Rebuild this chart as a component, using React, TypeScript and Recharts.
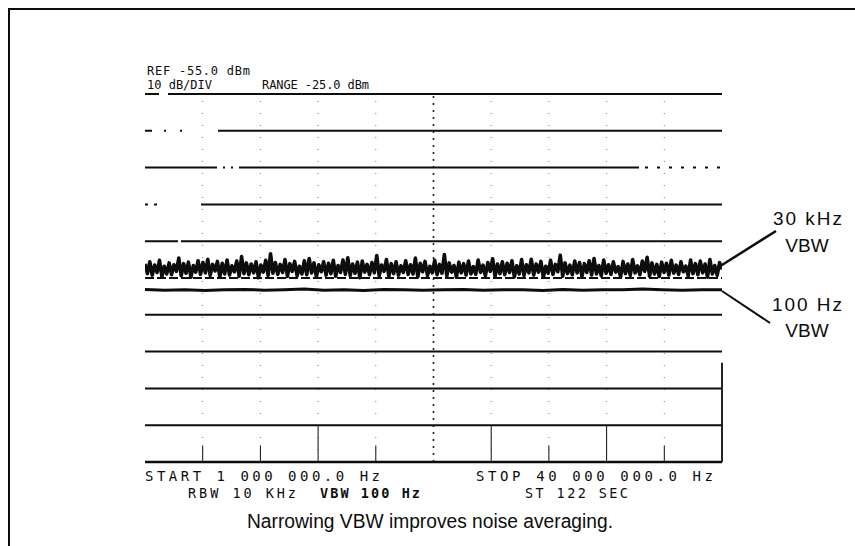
import { LineChart, Line, XAxis, YAxis, ReferenceLine } from "recharts";

// sweep settings (MHz / dBm)
const sweepStartMHz = 1;
const sweepStopMHz = 40;
const refLevel = -55;
const bottomLevel = -155;

const gridLevels = [-55, -65, -75, -85, -95, -105, -115, -125, -135, -145, -155];
const divisionFreqs = [1, 4.9, 8.8, 12.7, 16.6, 20.5, 24.4, 28.3, 32.2, 36.1, 40];
// graticule marks in the bottom division that still show full height
const fullTickFreqs = [12.7, 24.4, 32.2, 40];

// 30 kHz VBW trace
const vbw30kTrace = [
  -101.2, -103.8, -100.6, -104.2, -101.5, -103.5, -100.2, -104.6, -101.8, -103.9,
  -100.9, -104.1, -101.4, -103.2, -99.6, -104.4, -101.1, -103.7, -100.7, -104.8,
  -101.6, -103.4, -100.3, -104.0, -100.8, -103.6, -99.9, -104.3, -101.3, -103.1,
  -100.5, -104.7, -101.0, -103.9, -100.1, -104.2, -101.7, -103.3, -100.4, -104.5,
  -99.2, -103.8, -100.9, -104.1, -101.2, -103.6, -100.6, -104.9, -101.5, -103.4,
  -100.2, -104.3, -98.4, -103.7, -100.8, -104.0, -101.3, -103.5, -100.0, -104.6,
  -101.1, -103.2, -100.5, -104.4, -101.8, -103.9, -100.3, -104.1, -99.7, -103.6,
  -100.9, -104.7, -101.4, -103.3, -100.6, -104.2, -101.0, -103.8, -100.2, -104.5,
  -101.6, -103.5, -100.1, -104.0, -99.5, -104.3, -101.2, -103.7, -100.7, -104.9,
  -100.4, -103.4, -101.3, -104.1, -100.8, -103.6, -98.9, -104.4, -101.5, -103.2,
  -100.0, -104.6, -101.1, -103.8, -100.6, -104.2, -101.7, -103.5, -100.3, -104.0,
  -101.4, -103.9, -99.6, -104.7, -101.0, -103.3, -100.5, -104.3, -101.8, -103.6,
  -100.2, -104.1, -101.3, -103.7, -98.6, -104.5, -100.9, -103.4, -101.6, -104.8,
  -100.7, -103.6, -101.1, -104.2, -100.4, -103.9, -101.9, -104.0, -100.1, -103.5,
  -101.5, -104.4, -100.8, -103.2, -99.8, -104.6, -101.2, -103.8, -100.6, -104.1,
  -101.0, -103.5, -100.3, -104.7, -101.7, -103.9, -100.0, -104.3, -101.4, -103.6,
  -99.9, -104.2, -101.2, -103.4, -100.5, -104.8, -101.8, -103.7, -100.2, -104.0,
  -101.3, -103.3, -98.8, -104.5, -100.9, -103.8, -101.5, -104.1, -100.4, -103.6,
  -100.8, -104.6, -101.1, -103.5, -100.3, -104.2, -99.7, -103.9, -101.6, -104.4,
  -100.1, -103.7, -101.4, -104.0, -100.6, -103.4, -101.9, -104.7, -100.5, -103.8,
  -101.2, -104.3, -100.0, -103.6, -101.7, -104.1, -100.4, -103.2, -99.4, -104.5,
  -100.9, -103.9, -101.3, -104.6, -100.7, -103.5, -101.0, -104.2, -100.2, -103.7,
  -101.5, -104.0, -100.6, -103.3, -101.8, -104.4, -100.1, -103.8, -101.1, -104.1,
  -100.4, -103.6, -101.2, -104.8, -100.0, -103.9, -101.6, -104.3, -100.8, -102.6,
];

// 100 Hz VBW trace
const vbw100Trace = [
  -108.1, -108.3, -108.2, -108.4, -108.2, -108.1, -108.3, -108.2, -108.0, -108.3,
  -108.2, -108.4, -108.1, -108.2, -108.3, -108.2, -108.1, -108.3, -108.2, -108.2,
  -108.4, -108.1, -108.3, -108.2, -108.2, -108.0, -108.2, -108.3, -108.2, -108.2,
];

// dash patterns for the worn graticule lines, top to bottom
const gridDash = [
  "14 9 700",
  "7 12 2 14 2 36 700",
  "72 6 2 6 2 6 400 6 3 9 3 9 3 9 3 9 3 9 3 9 3 9",
  "3 6 3 44 700",
  "33 3 700",
  "9 3",
  undefined,
  undefined,
  undefined,
  undefined,
  undefined,
];

const ink = "#0d0d0d";
const mono = "'DejaVu Sans Mono', monospace";
const sans = "'Liberation Sans', Arial, sans-serif";

const toSweep = (vals: number[]) =>
  vals.map((v, i) => ({
    f: sweepStartMHz + (i * (sweepStopMHz - sweepStartMHz)) / (vals.length - 1),
    dbm: v,
  }));

export default function App() {
  const wide = toSweep(vbw30kTrace);
  const narrow = toSweep(vbw100Trace);
  const centerFreq = divisionFreqs[5];

  return (
    <div style={{ position: "absolute", left: 0, top: 0, width: 855, height: 546, background: "#fff" }}>
      <LineChart
        width={855}
        height={546}
        margin={{ top: 94, right: 133, bottom: 84, left: 145 }}
      >
        <XAxis hide type="number" dataKey="f" domain={[sweepStartMHz, sweepStopMHz]} allowDataOverflow />
        <YAxis hide type="number" dataKey="dbm" domain={[bottomLevel, refLevel]} allowDataOverflow />

        {divisionFreqs.slice(1, -1).map((f) => (
          <ReferenceLine
            key={"v" + f}
            x={f}
            stroke={f === centerFreq ? "#222" : "#777"}
            strokeWidth={f === centerFreq ? 1.6 : 1}
            strokeDasharray={f === centerFreq ? "2 5" : "1 11"}
          />
        ))}
        {divisionFreqs.slice(1).filter((f) => f !== centerFreq).map((f) => (
          <ReferenceLine
            key={"t" + f}
            segment={[
              { x: f, y: bottomLevel },
              { x: f, y: f === sweepStopMHz ? -128 : fullTickFreqs.includes(f) ? -145 : -150.5 },
            ]}
            stroke={ink}
            strokeWidth={f === sweepStopMHz ? 1.8 : 1}
          />
        ))}
        {gridLevels.map((db, i) => (
          <ReferenceLine
            key={"h" + db}
            y={db}
            stroke={ink}
            strokeWidth={db === bottomLevel ? 2.6 : 2}
            strokeDasharray={gridDash[i]}
          />
        ))}

        <Line
          data={wide}
          dataKey="dbm"
          type="linear"
          dot={false}
          stroke={ink}
          strokeWidth={3.6}
          strokeLinejoin="round"
          isAnimationActive={false}
        />
        <Line
          data={narrow}
          dataKey="dbm"
          type="linear"
          dot={false}
          stroke={ink}
          strokeWidth={3}
          isAnimationActive={false}
        />
      </LineChart>

      <svg
        width={855}
        height={546}
        style={{ position: "absolute", left: 0, top: 0, pointerEvents: "none" }}
      >
        <rect x={9} y={9} width={900} height={600} fill="none" stroke={ink} strokeWidth={2} />

        <g fontFamily={mono} fill={ink} fontSize={12}>
          <text x={147} y={75} textLength={103} lengthAdjust="spacing">REF -55.0 dBm</text>
          <text x={147} y={89} textLength={65} lengthAdjust="spacing">10 dB/DIV</text>
          <text x={262} y={89} textLength={107} lengthAdjust="spacing">RANGE -25.0 dBm</text>
        </g>

        <g fontFamily={mono} fill={ink} fontSize={14}>
          <text x={145} y={481} textLength={235} lengthAdjust="spacing">START 1 000 000.0 Hz</text>
          <text x={476} y={481} textLength={237} lengthAdjust="spacing">STOP 40 000 000.0 Hz</text>
          <text x={188} y={498} fontSize={13.5} textLength={108} lengthAdjust="spacing">RBW 10 KHz</text>
          <text x={320} y={498} fontSize={13.5} fontWeight="bold" textLength={100} lengthAdjust="spacing">VBW 100 Hz</text>
          <text x={525} y={498} fontSize={13.5} textLength={103} lengthAdjust="spacing">ST 122 SEC</text>
        </g>

        <text x={247} y={528} fontFamily={sans} fontSize={20} fill={ink} textLength={366} lengthAdjust="spacingAndGlyphs">
          Narrowing VBW improves noise averaging.
        </text>

        <line x1={714} y1={270} x2={776} y2={231} stroke={ink} strokeWidth={2.5} />
        <line x1={722} y1={291} x2={770} y2={323} stroke={ink} strokeWidth={2} />

        <g fontFamily={sans} fill={ink} fontSize={19}>
          <text x={773} y={225} textLength={69} lengthAdjust="spacing">30 kHz</text>
          <text x={807} y={252} textAnchor="middle">VBW</text>
          <text x={772} y={311} textLength={70} lengthAdjust="spacing">100 Hz</text>
          <text x={807} y={337} textAnchor="middle">VBW</text>
        </g>
      </svg>
    </div>
  );
}
